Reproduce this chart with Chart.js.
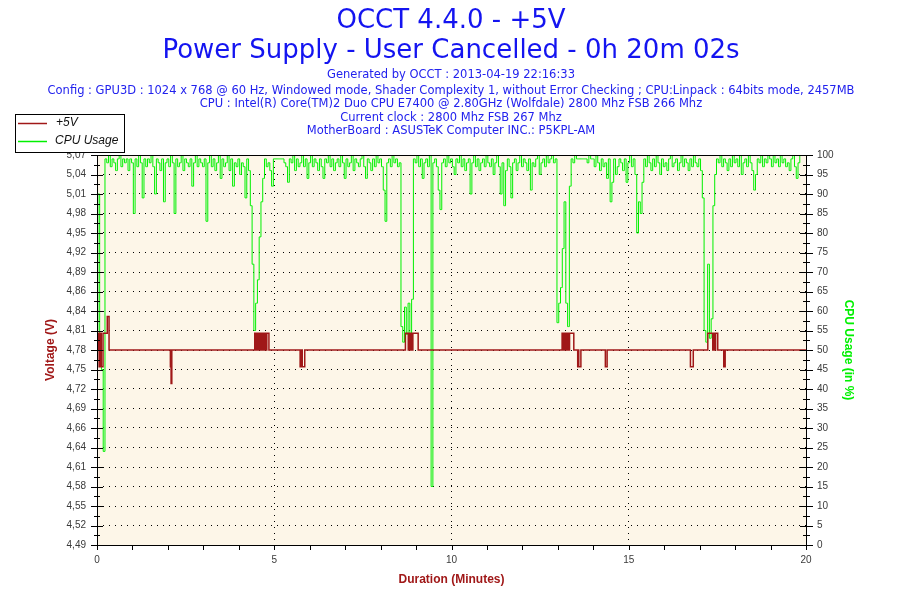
<!DOCTYPE html>
<html>
<head>
<meta charset="utf-8">
<title>OCCT 4.4.0 - +5V</title>
<script src="https://cdn.jsdelivr.net/npm/chart.js@4.4.0/dist/chart.umd.min.js"></script>
<style>
  html, body { margin: 0; padding: 0; background: #fff; }
  #wrap { width: 900px; height: 600px; }
</style>
</head>
<body>
<div id="wrap"><canvas id="chart" width="900" height="600"></canvas></div>
<script>
// header text
const titleLines = ['OCCT 4.4.0 - +5V', 'Power Supply - User Cancelled - 0h 20m 02s'];
const infoLines = [
  'Generated by OCCT : 2013-04-19 22:16:33',
  'Config : GPU3D : 1024 x 768 @ 60 Hz, Windowed mode, Shader Complexity 1, without Error Checking ; CPU:Linpack : 64bits mode, 2457MB',
  'CPU : Intel(R) Core(TM)2 Duo CPU E7400 @ 2.80GHz (Wolfdale) 2800 Mhz FSB 266 Mhz',
  'Current clock : 2800 Mhz FSB 267 Mhz',
  'MotherBoard : ASUSTeK Computer INC.: P5KPL-AM'
];

// left axis tick labels (volts), bottom to top
const voltLabels = ['4,49', '4,52', '4,55', '4,58', '4,61', '4,64', '4,66', '4,69', '4,72', '4,75', '4,78',
  '4,81', '4,84', '4,86', '4,89', '4,92', '4,95', '4,98', '5,01', '5,04', '5,07'];
const voltMin = 4.49;
const voltMax = 5.07;
const minuteLabels = [0, 5, 10, 15, 20];

// +5V readings: time (minutes) where the reading changes, and the new value
const voltTimes = [0, 0.02, 0.06, 0.08, 0.12, 0.17, 0.29, 0.34,
  2.07, 2.09, 2.11,
  4.45, 4.48, 4.49, 4.51, 4.53, 4.56, 4.59, 4.61, 4.63, 4.66, 4.69, 4.71, 4.74, 4.76, 4.79, 4.85,
  5.73, 5.77, 5.79, 5.86,
  8.70, 8.78, 8.79, 8.81, 8.83, 8.85, 8.87, 8.89, 8.91, 9.06,
  13.12, 13.14, 13.15, 13.17, 13.19, 13.22, 13.24, 13.27, 13.29, 13.31, 13.33, 13.45,
  13.56, 13.58, 13.59, 13.65,
  14.34, 14.39,
  16.74, 16.82,
  17.23, 17.37, 17.38, 17.40, 17.42, 17.44, 17.45, 17.51,
  17.68, 17.72,
  20];
const voltValues = [4.78, 4.805, 4.755, 4.805, 4.755, 4.805, 4.83, 4.78,
  4.755, 4.73, 4.78,
  4.805, 4.78, 4.805, 4.78, 4.805, 4.78, 4.805, 4.78, 4.805, 4.78, 4.805, 4.78, 4.805, 4.78, 4.805, 4.78,
  4.755, 4.78, 4.755, 4.78,
  4.805, 4.78, 4.805, 4.78, 4.805, 4.78, 4.805, 4.78, 4.805, 4.78,
  4.805, 4.78, 4.805, 4.78, 4.805, 4.78, 4.805, 4.78, 4.805, 4.78, 4.805, 4.78,
  4.755, 4.78, 4.755, 4.78,
  4.755, 4.78,
  4.755, 4.78,
  4.805, 4.78, 4.805, 4.78, 4.805, 4.78, 4.805, 4.78,
  4.755, 4.78,
  4.78];

// CPU usage (%), one reading every 3 s (0.05 min), one row per minute
const cpuStep = 0.05;
const cpuUsage = [
  55, 90, 48, 45, 24, 99, 98, 100, 97, 99, 98, 96, 99, 100, 97, 99, 98, 99, 96, 99,
  98, 85, 99, 97, 100, 98, 89, 99, 97, 99, 98, 100, 97, 90, 99, 98, 96, 99, 88, 98,
  99, 97, 100, 98, 85, 99, 97, 98, 100, 96, 99, 98, 97, 99, 92, 98, 100, 97, 99, 98,
  97, 99, 83, 98, 100, 97, 99, 96, 98, 100, 94, 99, 97, 98, 100, 96, 99, 92, 98, 97,
  99, 95, 98, 97, 89, 99, 96, 87, 72, 55, 62, 68, 79, 88, 94, 99, 97, 98, 96, 92,
  99, 99, 99, 99, 99, 99, 98, 97, 93, 99, 98, 100, 96, 99, 97, 98, 100, 97, 99, 94,
  98, 100, 97, 99, 98, 96, 99, 97, 94, 99, 98, 100, 97, 99, 96, 98, 99, 97, 100, 98,
  94, 99, 97, 98, 100, 96, 99, 98, 97, 99, 100, 97, 94, 99, 98, 96, 99, 97, 100, 98,
  99, 97, 91, 83, 98, 99, 97, 100, 98, 99, 97, 98, 56, 52, 61, 54, 62, 53, 63, 99,
  98, 100, 97, 99, 94, 98, 99, 97, 100, 15, 98, 99, 97, 91, 86, 98, 99, 97, 100, 98,
  99, 97, 95, 99, 98, 100, 97, 99, 96, 98, 99, 90, 98, 100, 97, 99, 96, 98, 99, 97,
  100, 98, 97, 99, 95, 98, 100, 97, 90, 98, 87, 96, 99, 97, 89, 98, 99, 96, 98, 100,
  97, 99, 98, 96, 99, 91, 98, 97, 99, 100, 95, 98, 99, 97, 100, 98, 99, 100, 98, 99,
  57, 62, 66, 76, 88, 62, 56, 92, 99, 98, 100, 99, 99, 99, 99, 99, 99, 98, 100, 99,
  99, 97, 100, 98, 96, 99, 97, 98, 94, 99, 88, 93, 99, 95, 97, 99, 98, 96, 99, 93,
  98, 100, 97, 99, 95, 80, 88, 85, 93, 99, 97, 100, 98, 96, 99, 97, 100, 98, 95, 99,
  97, 98, 96, 99, 100, 97, 98, 99, 96, 98, 100, 97, 99, 98, 96, 99, 97, 100, 98, 97,
  99, 96, 89, 55, 52, 72, 53, 58, 87, 95, 99, 98, 100, 97, 99, 98, 96, 99, 97, 100,
  98, 99, 97, 100, 95, 98, 99, 97, 100, 98, 96, 91, 95, 99, 98, 100, 97, 99, 98, 100,
  99, 97, 100, 98, 99, 97, 100, 98, 99, 97, 98, 96, 99, 100, 97, 94, 98, 100
];

const RED = '#a01818';
const GREEN = '#00f000';
const BLUE = '#1414f0';
const TICK_TEXT = '#3a3a3a';
const FONT = '"Liberation Sans", Arial, sans-serif';
const HEAD_FONT = '"DejaVu Sans", Verdana, sans-serif';

const occtDecor = {
  id: 'occtDecor',
  beforeDraw(chart) {
    const { ctx, chartArea: a } = chart;
    ctx.save();
    ctx.fillStyle = '#ffffff';
    ctx.fillRect(0, 0, chart.width, chart.height);
    ctx.fillStyle = '#fdf6e8';
    ctx.fillRect(a.left, a.top, a.right - a.left, a.bottom - a.top);
    ctx.restore();
  },
  afterDraw(chart) {
    const { ctx, chartArea: a } = chart;
    const xs = chart.scales.x;
    const y2 = chart.scales.y2;
    ctx.save();

    // frame
    ctx.strokeStyle = '#000';
    ctx.lineWidth = 1;
    ctx.strokeRect(Math.round(a.left) + 0.5, Math.round(a.top) + 0.5,
      Math.round(a.right - a.left), Math.round(a.bottom - a.top));

    // tick marks crossing left and right axes
    ctx.beginPath();
    for (let v = 0; v <= 100; v += 2.5) {
      const py = Math.round(y2.getPixelForValue(v)) + 0.5;
      const len = v % 5 === 0 ? 6 : 3;
      ctx.moveTo(a.left - len, py); ctx.lineTo(a.left + len, py);
      ctx.moveTo(a.right - len, py); ctx.lineTo(a.right + len + 1, py);
    }
    for (let m = 0; m <= 20; m++) {
      const px = Math.round(xs.getPixelForValue(m)) + 0.5;
      ctx.moveTo(px, a.bottom); ctx.lineTo(px, a.bottom + 5);
    }
    ctx.stroke();

    // axis titles
    ctx.font = 'bold 12px ' + FONT;
    ctx.textAlign = 'center';
    ctx.textBaseline = 'middle';
    ctx.fillStyle = RED;
    ctx.fillText('Duration (Minutes)', (a.left + a.right) / 2, 580);
    ctx.save();
    ctx.translate(51, (a.top + a.bottom) / 2);
    ctx.rotate(-Math.PI / 2);
    ctx.fillText('Voltage (V)', 0, 0);
    ctx.restore();
    ctx.save();
    ctx.fillStyle = GREEN;
    ctx.translate(848, (a.top + a.bottom) / 2);
    ctx.rotate(Math.PI / 2);
    ctx.fillText('CPU Usage (in %)', 0, 0);
    ctx.restore();

    // header
    ctx.fillStyle = BLUE;
    ctx.font = '26px ' + HEAD_FONT;
    ctx.fillText(titleLines[0], 451, 21);
    ctx.fillText(titleLines[1], 451, 51);
    ctx.fillStyle = '#2222ee';
    ctx.font = '11.5px ' + HEAD_FONT;
    const infoY = [75, 91, 104, 118, 131];
    infoLines.forEach((t, i) => ctx.fillText(t, 451, infoY[i]));

    // legend box
    ctx.fillStyle = '#fff';
    ctx.fillRect(15, 114, 109, 38);
    ctx.strokeStyle = '#000';
    ctx.lineWidth = 1;
    ctx.strokeRect(15.5, 114.5, 109, 38);
    ctx.lineWidth = 1.5;
    ctx.strokeStyle = RED;
    ctx.beginPath(); ctx.moveTo(18, 123.5); ctx.lineTo(47, 123.5); ctx.stroke();
    ctx.strokeStyle = GREEN;
    ctx.beginPath(); ctx.moveTo(18, 141.5); ctx.lineTo(47, 141.5); ctx.stroke();
    ctx.fillStyle = '#111';
    ctx.font = 'italic 12px ' + FONT;
    ctx.textAlign = 'left';
    ctx.fillText('+5V', 56, 123);
    ctx.fillText('CPU Usage', 55, 141);

    ctx.restore();
  }
};

new Chart(document.getElementById('chart'), {
  type: 'line',
  data: {
    datasets: [
      {
        label: '+5V',
        data: voltTimes.map((t, i) => ({ x: t, y: voltValues[i] })),
        yAxisID: 'y',
        borderColor: RED,
        borderWidth: 1.5,
        stepped: 'before',
        pointRadius: 0,
        fill: false,
        order: 0
      },
      {
        label: 'CPU Usage',
        data: cpuUsage.map((v, i) => ({ x: i * cpuStep, y: v })),
        yAxisID: 'y2',
        borderColor: GREEN,
        borderWidth: 1,
        stepped: 'middle',
        pointRadius: 0,
        fill: false,
        order: 1
      }
    ]
  },
  options: {
    responsive: false,
    animation: false,
    devicePixelRatio: 1,
    layout: { padding: { top: 155, left: 0, right: 0, bottom: 0 } },
    plugins: { legend: { display: false }, tooltip: { enabled: false } },
    scales: {
      x: {
        type: 'linear',
        min: 0,
        max: 20,
        afterFit: s => { s.height = 55; },
        ticks: {
          stepSize: 1,
          autoSkip: false,
          maxRotation: 0,
          padding: 9,
          color: TICK_TEXT,
          font: { family: FONT, size: 10 },
          callback: v => (minuteLabels.includes(v) ? String(v) : '')
        },
        grid: {
          drawTicks: false,
          lineWidth: 1,
          color: c => (c.tick && minuteLabels.includes(c.tick.value) ? '#000' : 'rgba(0,0,0,0)')
        },
        border: { display: false, dash: [1, 5] }
      },
      y: {
        position: 'left',
        min: voltMin,
        max: voltMax,
        afterFit: s => { s.width = 97; },
        afterBuildTicks: s => {
          s.ticks = voltLabels.map((_, i) => ({ value: voltMin + i * (voltMax - voltMin) / (voltLabels.length - 1) }));
        },
        ticks: {
          padding: 11,
          color: TICK_TEXT,
          font: { family: FONT, size: 10 },
          callback: (v, i) => voltLabels[i]
        },
        grid: { drawTicks: false, color: '#000', lineWidth: 1 },
        border: { display: false, dash: [1, 5] }
      },
      y2: {
        position: 'right',
        min: 0,
        max: 100,
        afterFit: s => { s.width = 94; },
        ticks: {
          stepSize: 5,
          padding: 11,
          color: TICK_TEXT,
          font: { family: FONT, size: 10 }
        },
        grid: { drawOnChartArea: false, drawTicks: false },
        border: { display: false }
      }
    }
  },
  plugins: [occtDecor]
});
</script>
</body>
</html>
